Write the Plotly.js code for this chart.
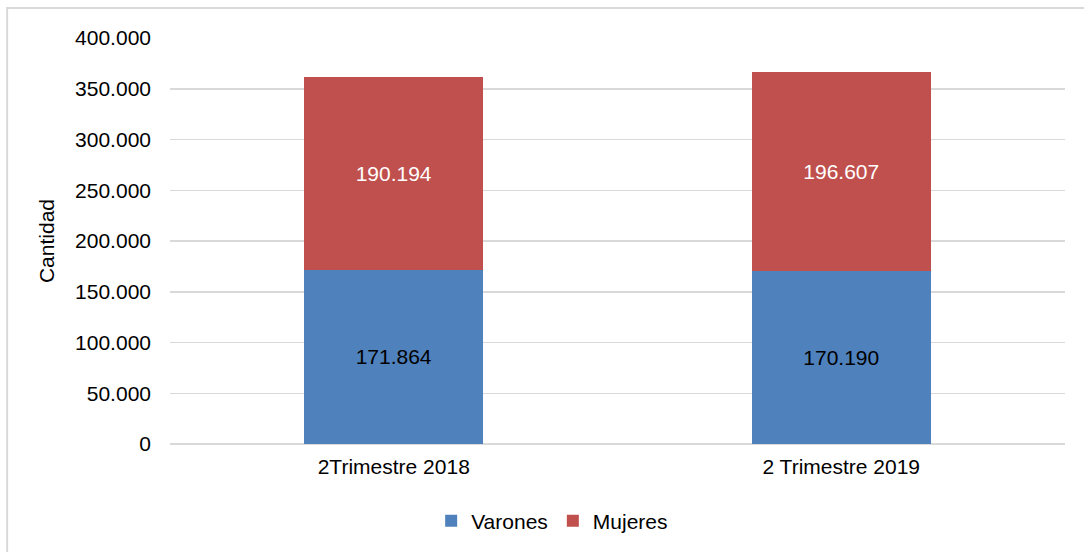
<!DOCTYPE html>
<html>
<head>
<meta charset="utf-8">
<script src="https://cdn.plot.ly/plotly-3.0.1.min.js"></script>
<style>
  html, body { margin: 0; padding: 0; background: #fff; }
  #chart { width: 1084px; height: 552px; }
</style>
</head>
<body>
<div id="chart"></div>
<script>
// categories and series
const periods = ["2Trimestre 2018", "2 Trimestre 2019"];
const varones = [171864, 170190];
const mujeres = [190194, 196607];
const yTicks = [0, 50000, 100000, 150000, 200000, 250000, 300000, 350000, 400000];

const font = { family: "Liberation Sans, Arial, sans-serif", size: 21, color: "#000" };

const data = [
  {
    type: "bar",
    name: "Varones",
    x: periods,
    y: varones,
    marker: { color: "#4F81BD" },
    texttemplate: "%{y:,.0f}",
    textposition: "inside",
    insidetextanchor: "middle",
    textfont: { family: font.family, size: 21, color: "#000" },
    hoverinfo: "skip",
  },
  {
    type: "bar",
    name: "Mujeres",
    x: periods,
    y: mujeres,
    marker: { color: "#C0504D" },
    texttemplate: "%{y:,.0f}",
    textposition: "inside",
    insidetextanchor: "middle",
    textfont: { family: font.family, size: 21, color: "#fff" },
    hoverinfo: "skip",
  },
];

const layout = {
  width: 1084,
  height: 552,
  barmode: "stack",
  bargap: 0.6,
  separators: ",.",
  font: font,
  paper_bgcolor: "#fff",
  plot_bgcolor: "#fff",
  margin: { l: 170, r: 19, t: 38, b: 107 },
  showlegend: true,
  legend: {
    orientation: "h",
    x: 0.427,
    xanchor: "center",
    y: -0.187,
    yanchor: "middle",
    font: font,
    traceorder: "normal",
    itemwidth: 30,
  },
  xaxis: {
    type: "category",
    range: [-0.5, 1.5],
    showgrid: false,
    showline: false,
    ticks: "",
    ticklabelstandoff: 8,
    tickfont: font,
  },
  yaxis: {
    range: [0, 400000],
    tickvals: yTicks,
    tickformat: ",.0f",
    showgrid: true,
    gridcolor: "#D9D9D9",
    gridwidth: 1.5,
    zeroline: true,
    zerolinecolor: "#D9D9D9",
    zerolinewidth: 1.5,
    showline: false,
    ticks: "",
    ticklabelstandoff: 18,
    tickfont: font,
    title: { text: "Cantidad", font: font, standoff: 14 },
  },
  shapes: [
    {
      type: "rect",
      xref: "paper",
      yref: "paper",
      x0: -0.182,
      x1: 1.2,
      y0: -0.5,
      y1: 1.0737,
      line: { color: "#D9D9D9", width: 2 },
      fillcolor: "rgba(0,0,0,0)",
      layer: "below",
    },
  ],
};

Plotly.newPlot("chart", data, layout, { displayModeBar: false, staticPlot: true });
</script>
</body>
</html>
